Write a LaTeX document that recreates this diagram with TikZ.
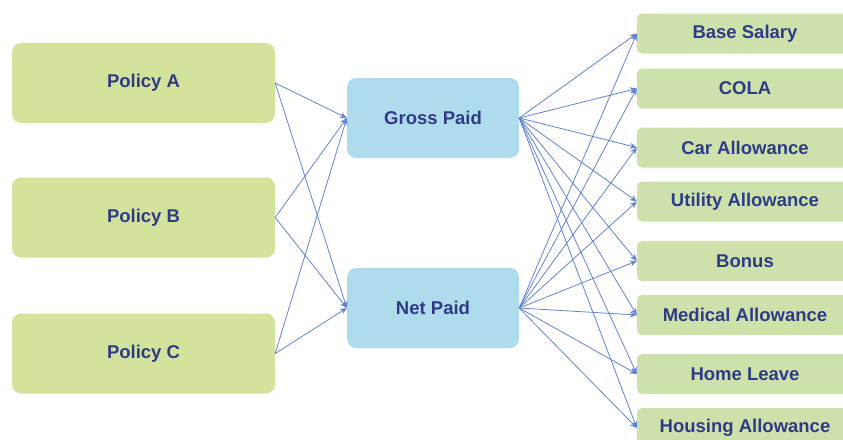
\documentclass[tikz,border=0pt]{standalone}
\usepackage{fontspec}
\setmainfont{Liberation Sans}
\usetikzlibrary{arrows.meta}
\definecolor{policygreen}{HTML}{D4E39B}
\definecolor{itemgreen}{HTML}{CFE1AA}
\definecolor{paidblue}{HTML}{AEDCEC}
\definecolor{labelnavy}{HTML}{2F3B86}
\definecolor{linkblue}{HTML}{6283D2}
\begin{document}
\begin{tikzpicture}[x=1pt,y=-1pt,
    box/.style={rounded corners=9pt, inner sep=0pt, align=center, text=labelnavy,
      font=\fontsize{18.5}{21}\selectfont\bfseries},
    policy/.style={box, fill=policygreen, minimum width=263pt, minimum height=80pt},
    paid/.style={box, fill=paidblue, minimum width=172pt, minimum height=80pt},
    item/.style={box, fill=itemgreen, rounded corners=5pt, minimum width=216pt, minimum height=40pt},
    link/.style={draw=linkblue, line width=0.8pt, -{Stealth[length=7pt,width=6pt]}}]
    \useasboundingbox (0,0) rectangle (843,439);
    \clip (0,0) rectangle (843,439);

    % policies
    \node[policy] (polA) at (143.5,83) {Policy A};
    \node[policy] (polB) at (143.5,217.5) {Policy B};
    \node[policy] (polC) at (143.5,353.5) {Policy C};

    % paid totals
    \node[paid] (gross) at (433,118) {Gross Paid};
    \node[paid] (net) at (433,308) {Net Paid};

    % pay items
    \foreach \name/\ypos/\txt in {base/33.5/Base Salary, cola/88.5/COLA,
        car/147.5/Car Allowance, utility/201.5/Utility Allowance,
        bonus/261/Bonus, medical/315/Medical Allowance,
        home/374/Home Leave, housing/428/Housing Allowance}
      \node[item] (\name) at (745,\ypos) {\txt};

    % links
    \foreach \src in {polA,polB,polC}
      \foreach \dst in {gross,net}
        \draw[link] (\src.east) -- (\dst.west);
    \foreach \src in {gross,net}
      \foreach \dst in {base,cola,car,utility,bonus,medical,home,housing}
        \draw[link] (\src.east) -- (\dst.west);
\end{tikzpicture}
\end{document}
